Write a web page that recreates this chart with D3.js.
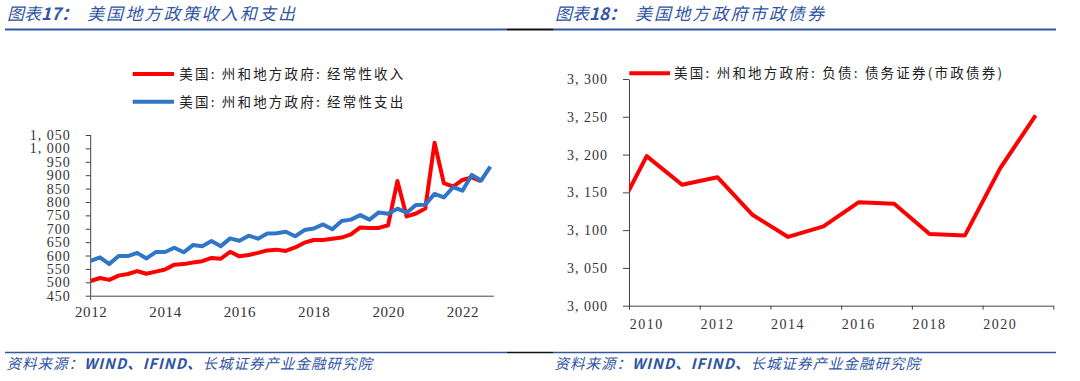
<!DOCTYPE html>
<html><head><meta charset="utf-8">
<script src="https://cdn.jsdelivr.net/npm/d3@7"></script>
<style>body{margin:0;background:#fff} svg{display:block}</style>
</head><body><svg id="c" width="1080" height="381"></svg>
<script>
// ---------- data ----------
const quarters = d3.range(44).map(i => 2012 + i * 0.25); // 2012Q1 .. 2022Q4
const revenue = [505, 516, 509, 525, 531, 542, 532, 540, 548, 566, 568, 574, 579, 591, 588, 614,
  597, 602, 610, 619, 622, 617, 630, 648, 658, 658, 663, 667, 679, 705, 703, 703,
  713, 878, 746, 757, 776, 1021, 870, 857, 882, 892, 878];
const expenditure = [580, 593, 568, 598, 598, 610, 589, 613, 613, 629, 612, 639, 635, 654, 635, 664,
  655, 674, 663, 682, 683, 689, 672, 695, 701, 716, 698, 729, 734, 751, 734, 761,
  756, 775, 760, 789, 790, 830, 817, 855, 842, 901, 880, 932];
const leftYTicks = [450, 500, 550, 600, 650, 700, 750, 800, 850, 900, 950, 1000, 1050];
const leftXTicks = [2012, 2014, 2016, 2018, 2020, 2022];
const leftNames = ["美国: 州和地方政府: 经常性收入", "美国: 州和地方政府: 经常性支出"];

const years = [2009, 2010, 2011, 2012, 2013, 2014, 2015, 2016, 2017, 2018, 2019, 2020, 2021];
const muniBonds = [3108, 3198, 3160, 3170, 3120, 3091, 3105, 3137, 3135, 3095, 3093, 3182, 3252];
const rightYTicks = [3000, 3050, 3100, 3150, 3200, 3250, 3300];
const rightXTicks = [2010, 2012, 2014, 2016, 2018, 2020, 2022];
const rightXLabels = [2010, 2012, 2014, 2016, 2018, 2020];
const rightName = "美国: 州和地方政府: 负债: 债务证券(市政债券)";

const titles = [["图表", "17：", "美国地方政策收入和支出"], ["图表", "18：", "美国地方政府市政债券"]];
const sourceParts = [["资料来源：", "normal"], ["WIND、IFIND、", "bold"], ["长城证券产业金融研究院", "normal"]];

// ---------- styles ----------
const RED = "#ff0000", BLUE = "#2f76c8", TITLE = "#2f55a4", AXIS = "#444";
const CJK = "'Noto Sans CJK SC', sans-serif";
const SERIF = "'Liberation Serif', 'DejaVu Serif', serif";
const fmt = v => v >= 1000 ? Math.floor(v / 1000) + ", " + String(v % 1000).padStart(3, "0") : String(v);

const svg = d3.select("#c");

// ---------- titles & rules ----------
[[7, 87], [555, 635]].forEach(([x1, x2], i) => {
  const t = svg.append("text").attr("x", x1).attr("y", 20).attr("font-family", CJK).attr("font-style", "italic")
    .attr("font-size", 17).attr("fill", TITLE);
  t.append("tspan").text(titles[i][0]);
  t.append("tspan").attr("font-weight", "bold").text(titles[i][1]);
  svg.append("text").attr("x", x2).attr("y", 20).attr("font-family", CJK).attr("font-style", "italic")
    .attr("font-size", 17).attr("letter-spacing", 2.1).attr("fill", TITLE).text(titles[i][2]);
  const s = svg.append("text").attr("x", x1 - 0.5).attr("y", 369).attr("font-family", CJK).attr("font-style", "italic")
    .attr("font-size", 14.5).attr("letter-spacing", 1).attr("fill", TITLE);
  sourceParts.forEach(([txt, w]) => s.append("tspan").attr("font-weight", w).text(txt));
});
function rule(y, w) {
  svg.append("line").attr("x1", 507).attr("x2", 553).attr("y1", y).attr("y2", y).attr("stroke", "#111").attr("stroke-width", w);
  svg.append("line").attr("x1", 5).attr("x2", 507).attr("y1", y).attr("y2", y).attr("stroke", TITLE).attr("stroke-width", w);
  svg.append("line").attr("x1", 553).attr("x2", 1056).attr("y1", y).attr("y2", y).attr("stroke", TITLE).attr("stroke-width", w);
}
rule(29.5, 2);
rule(352.5, 1.6);

// ---------- left chart ----------
const xL = d3.scaleLinear().domain([2012, 2022.83]).range([90.7, 493.3]);
const yL = d3.scaleLinear().domain([450, 1050]).range([295.7, 135]);
const gL = svg.append("g");

gL.append("g").attr("transform", "translate(90.7,0)")
  .call(d3.axisLeft(yL).tickValues(leftYTicks).tickFormat(fmt).tickSize(5).tickPadding(15).tickSizeOuter(0))
  .call(g => g.select(".domain").remove())
  .call(g => g.selectAll("line").attr("stroke", AXIS))
  .call(g => g.selectAll("text").attr("font-family", SERIF).attr("font-size", 14).attr("letter-spacing", 1).attr("fill", "#333"));
gL.append("line").attr("x1", 90.7).attr("x2", 90.7).attr("y1", 135).attr("y2", 300).attr("stroke", AXIS);
gL.append("g").attr("transform", "translate(0,295.7)")
  .call(d3.axisBottom(xL).tickValues(leftXTicks).tickFormat(d3.format("d")).tickSize(0).tickPadding(11))
  .call(g => g.select(".domain").attr("stroke", AXIS))
  .call(g => g.selectAll("text").attr("font-family", SERIF).attr("font-size", 15).attr("letter-spacing", 0.6).attr("fill", "#333"));

const lineL = d3.line().x((d, i) => xL(quarters[i])).y(d => yL(d));
gL.append("path").datum(revenue).attr("d", lineL).attr("fill", "none").attr("stroke", RED).attr("stroke-width", 4).attr("stroke-linejoin", "round");
gL.append("path").datum(expenditure).attr("d", lineL).attr("fill", "none").attr("stroke", BLUE).attr("stroke-width", 4).attr("stroke-linejoin", "round");

[[RED, 74], [BLUE, 101.7]].forEach(([c, y], i) => {
  gL.append("line").attr("x1", 132.7).attr("x2", 174).attr("y1", y).attr("y2", y).attr("stroke", c).attr("stroke-width", 4);
  gL.append("text").attr("x", 179.3).attr("y", y).attr("dy", "0.36em").attr("font-family", CJK)
    .attr("font-size", 13.5).attr("fill", "#222").attr("textLength", 224).attr("lengthAdjust", "spacing").text(leftNames[i]);
});

// ---------- right chart ----------
const xR = d3.scaleLinear().domain([2010, 2022]).range([629, 1053.3]);
const yR = d3.scaleLinear().domain([3000, 3300]).range([305.7, 79]);
const gR = svg.append("g");

svg.append("clipPath").attr("id", "clipR").append("rect")
  .attr("x", xR(2010)).attr("y", 60).attr("width", xR(2022) - xR(2010)).attr("height", 260);

gR.append("g").attr("transform", "translate(629,0)")
  .call(d3.axisLeft(yR).tickValues(rightYTicks).tickFormat(fmt).tickSize(6).tickPadding(15).tickSizeOuter(0))
  .call(g => g.select(".domain").attr("stroke", AXIS))
  .call(g => g.selectAll("line").attr("stroke", AXIS))
  .call(g => g.selectAll("text").attr("font-family", SERIF).attr("font-size", 14).attr("letter-spacing", 1).attr("fill", "#333"));
gR.append("g").attr("transform", "translate(0,305.7)")
  .call(d3.axisBottom(xR).tickValues(rightXTicks).tickFormat("").tickSize(4).tickSizeOuter(0))
  .call(g => g.select(".domain").attr("stroke", AXIS))
  .call(g => g.selectAll("line").attr("stroke", AXIS));
gR.selectAll("text.xl").data(rightXLabels).join("text").attr("class", "xl")
  .attr("x", d => xR(d + 0.5)).attr("y", 323.5).attr("dy", "0.36em").attr("text-anchor", "middle")
  .attr("font-family", SERIF).attr("font-size", 14).attr("letter-spacing", 1.5).attr("fill", "#333").text(d => d);

const lineR = d3.line().x((d, i) => xR(years[i] + 0.5)).y(d => yR(d));
gR.append("path").datum(muniBonds).attr("d", lineR).attr("clip-path", "url(#clipR)")
  .attr("fill", "none").attr("stroke", RED).attr("stroke-width", 4).attr("stroke-linejoin", "round");

gR.append("line").attr("x1", 629.3).attr("x2", 670).attr("y1", 73.3).attr("y2", 73.3).attr("stroke", RED).attr("stroke-width", 4);
gR.append("text").attr("x", 674).attr("y", 73.3).attr("dy", "0.36em").attr("font-family", CJK)
  .attr("font-size", 13.5).attr("fill", "#222").attr("textLength", 328).attr("lengthAdjust", "spacing").text(rightName);
</script></body></html>
